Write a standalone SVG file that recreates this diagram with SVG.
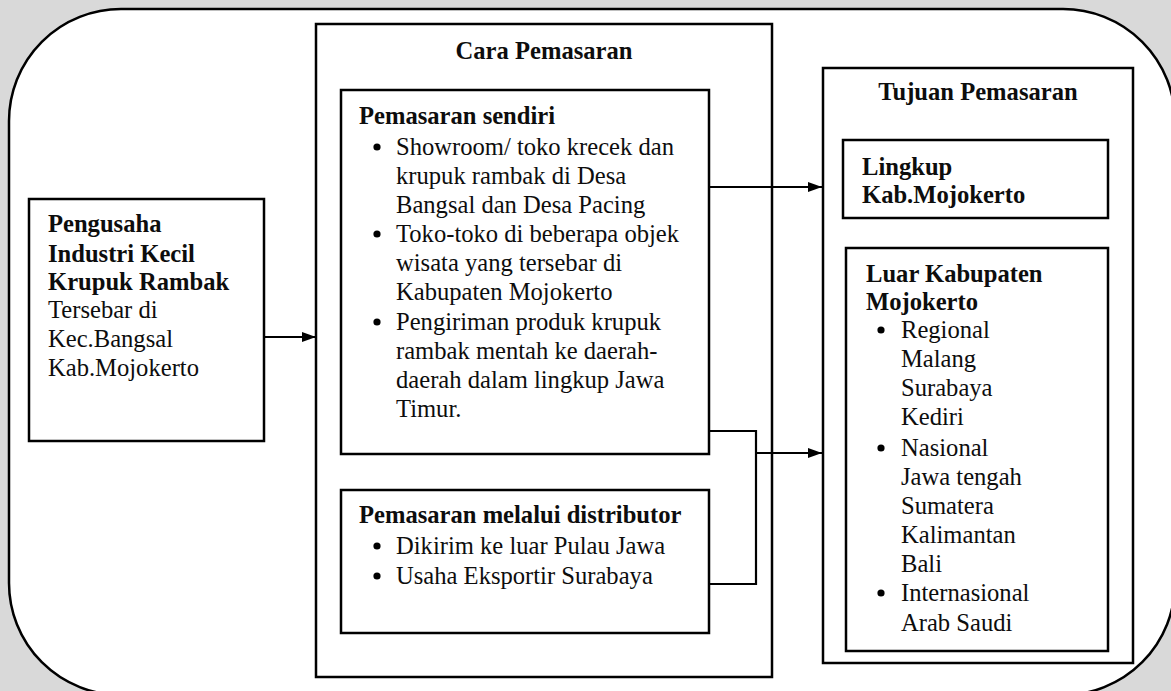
<svg xmlns="http://www.w3.org/2000/svg" width="1171" height="691" viewBox="0 0 1171 691">
  <defs>
    <style>
      .box { fill: #ffffff; stroke: #000000; stroke-width: 2.5; }
      .wire { fill: none; stroke: #000000; stroke-width: 2.2; }
      .dot { fill: #000000; }
      text { font-family: "Liberation Serif", "Times New Roman", serif; font-size: 24.6px; fill: #0d0d0d; }
      .b { font-weight: bold; }
      .c { text-anchor: middle; }
    </style>
    <marker id="arrow" viewBox="0 0 14 10" refX="14" refY="5" markerWidth="14" markerHeight="10" markerUnits="userSpaceOnUse" orient="auto">
      <path d="M0,0 L14,5 L0,10 Z" fill="#000000"/>
    </marker>
  </defs>

  <!-- page backdrop and rounded frame -->
  <rect x="0" y="0" width="1171" height="691" fill="#d9d9d9"/>
  <rect id="frame" x="9" y="9" width="1166" height="686" rx="112" ry="112" fill="#ffffff" stroke="#000000" stroke-width="2.5"/>

  <!-- producer -->
  <g id="pengusaha">
    <rect class="box" x="29" y="199" width="235" height="242"/>
    <text x="48" y="232" class="b">Pengusaha</text>
    <text x="48" y="262" class="b">Industri Kecil</text>
    <text x="48" y="290" class="b">Krupuk Rambak</text>
    <text x="48" y="318">Tersebar di</text>
    <text x="48" y="347">Kec.Bangsal</text>
    <text x="48" y="376">Kab.Mojokerto</text>
  </g>

  <!-- marketing channels -->
  <g id="cara-pemasaran">
    <rect class="box" x="316" y="24" width="456" height="653"/>
    <text x="544" y="59" class="b c">Cara Pemasaran</text>
  </g>

  <g id="pemasaran-sendiri">
    <rect class="box" x="341" y="90" width="368" height="364"/>
    <text x="359" y="124" class="b">Pemasaran sendiri</text>
    <circle class="dot" cx="377" cy="147" r="3.6"/>
    <text x="396" y="155">Showroom/ toko krecek dan</text>
    <text x="396" y="184">krupuk rambak di Desa</text>
    <text x="396" y="213">Bangsal dan Desa Pacing</text>
    <circle class="dot" cx="377" cy="234" r="3.6"/>
    <text x="396" y="242">Toko-toko di beberapa objek</text>
    <text x="396" y="271">wisata yang tersebar di</text>
    <text x="396" y="300">Kabupaten Mojokerto</text>
    <circle class="dot" cx="377" cy="322" r="3.6"/>
    <text x="396" y="330">Pengiriman produk krupuk</text>
    <text x="396" y="359">rambak mentah ke daerah-</text>
    <text x="396" y="388">daerah dalam lingkup Jawa</text>
    <text x="396" y="417">Timur.</text>
  </g>

  <g id="pemasaran-distributor">
    <rect class="box" x="341" y="490" width="368" height="143"/>
    <text x="359" y="523" class="b">Pemasaran melalui distributor</text>
    <circle class="dot" cx="377" cy="546" r="3.6"/>
    <text x="396" y="554">Dikirim ke luar Pulau Jawa</text>
    <circle class="dot" cx="377" cy="576" r="3.6"/>
    <text x="396" y="584">Usaha Eksportir Surabaya</text>
  </g>

  <!-- marketing destinations -->
  <g id="tujuan-pemasaran">
    <rect class="box" x="823" y="68" width="310" height="595"/>
    <text x="978" y="100" class="b c">Tujuan Pemasaran</text>
  </g>

  <g id="lingkup">
    <rect class="box" x="843" y="140" width="265" height="78"/>
    <text x="862" y="175" class="b">Lingkup</text>
    <text x="862" y="203" class="b">Kab.Mojokerto</text>
  </g>

  <g id="luar-kabupaten">
    <rect class="box" x="846" y="248" width="262" height="403"/>
    <text x="866" y="282" class="b">Luar Kabupaten</text>
    <text x="866" y="310" class="b">Mojokerto</text>
    <circle class="dot" cx="881" cy="330" r="3.6"/>
    <text x="901" y="338">Regional</text>
    <text x="901" y="367">Malang</text>
    <text x="901" y="396">Surabaya</text>
    <text x="901" y="425">Kediri</text>
    <circle class="dot" cx="881" cy="448" r="3.6"/>
    <text x="901" y="456">Nasional</text>
    <text x="901" y="485">Jawa tengah</text>
    <text x="901" y="514">Sumatera</text>
    <text x="901" y="543">Kalimantan</text>
    <text x="901" y="572">Bali</text>
    <circle class="dot" cx="881" cy="593" r="3.6"/>
    <text x="901" y="601">Internasional</text>
    <text x="901" y="631">Arab Saudi</text>
  </g>

  <!-- flows -->
  <g id="connectors">
    <path class="wire" d="M264,337 H316" marker-end="url(#arrow)"/>
    <path class="wire" d="M709,187 H822" marker-end="url(#arrow)"/>
    <path class="wire" d="M709,431 H756 V584 H709"/>
    <path class="wire" d="M756,453 H822" marker-end="url(#arrow)"/>
  </g>
</svg>
